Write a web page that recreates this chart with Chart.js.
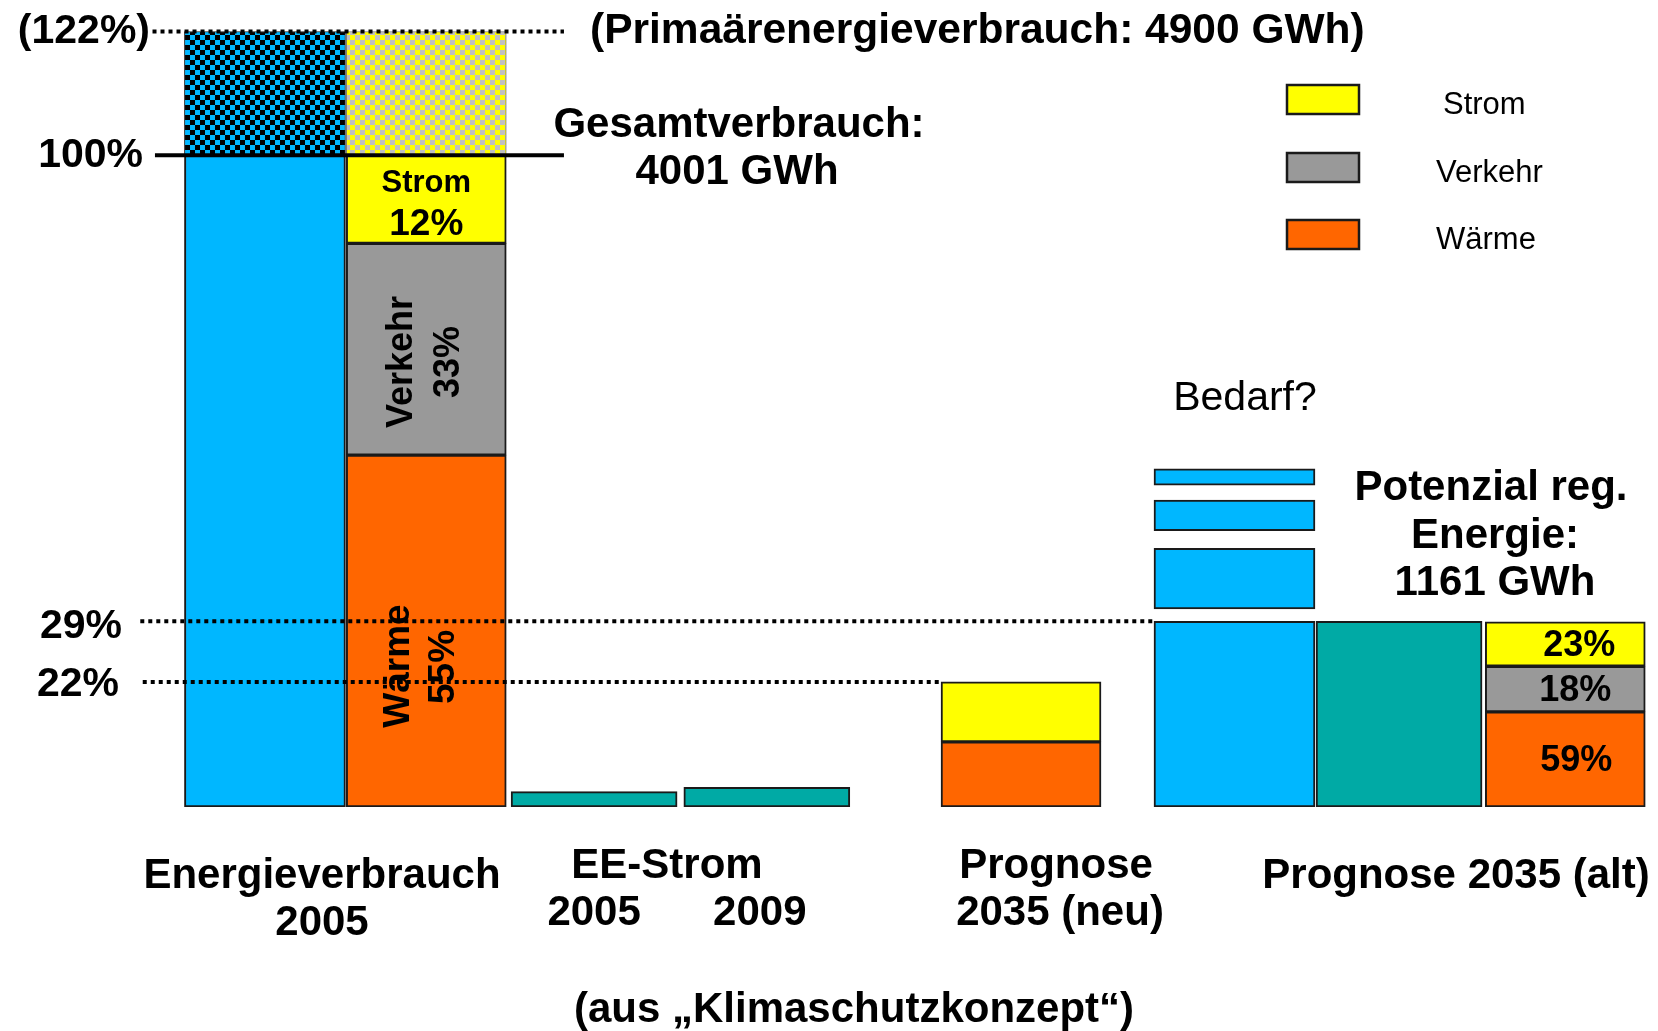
<!DOCTYPE html>
<html lang="de">
<head>
<meta charset="utf-8">
<title>Energieverbrauch 2005 und Prognose 2035</title>
<script src="https://cdn.jsdelivr.net/npm/chart.js@4.4.1/dist/chart.umd.min.js"></script>
<style>
  html, body { margin: 0; padding: 0; background: #fff; }
  #wrap { position: relative; width: 1658px; height: 1031px; }
</style>
</head>
<body>
<div id="wrap"><canvas id="chart"></canvas></div>
<script>
// Werte in % des Gesamtverbrauchs 2005
const kategorien = ['Energieverbrauch 2005', 'EE-Strom 2005', 'EE-Strom 2009', 'Prognose 2035 (neu)', 'Prognose 2035 (alt)'];
const sektoren = ['Wärme', 'Verkehr', 'Strom'];
const primaer2005 = [100, 119];            // Gesamtverbrauch, Primärenergie
const anteile2005 = [54, 32.5, 13.5];      // Wärme, Verkehr, Strom
const anteileNeu = [10.0, 0, 9.2];
const anteileAlt = [14.6, 7.0, 6.8];
const eeStrom = [2.35, 3.0];               // 2005, 2009
const potenzial = 28.5;                    // reg. Energie (1161 GWh)
const bedarf = [[30.4, 39.7], [42.4, 47.1], [49.4, 51.9]];
const linienWerte = [119, 100, 28.5, 19.2];
const linienText = ['(122%)', '100%', '29%', '22%'];

// Layout (Balkenpositionen auf der x-Achse, Einheit = eine Balkenbreite)
const xPos = { primaer: 1.0, end2005: 1.99, ee2005: 3.02, ee2009: 4.08, neu: 5.64, bedarf: 6.95, potenzial: 7.96, alt: 8.98 };
const linienX = [[0.31, 2.835], [0.325, 2.835], [0.235, 6.45], [0.25, 5.14]];

const farben = { blau: '#00B7FF', gelb: '#FFFF00', grau: '#999999', orange: '#FF6600', tuerkis: '#00AAA5' };
const rand = '#1a1a1a';
const schrift = '"Liberation Sans", Arial, Helvetica, sans-serif';

function schach(a, b, n) {
  const c = document.createElement('canvas');
  c.width = c.height = n * 2;
  const g = c.getContext('2d');
  g.fillStyle = a; g.fillRect(0, 0, n * 2, n * 2);
  g.fillStyle = b; g.fillRect(0, 0, n, n); g.fillRect(n, n, n, n);
  return g.createPattern(c, 'repeat');
}

function stapel(werte) {
  let s = 0;
  return werte.map(v => { const seg = v ? [s, s + v] : null; s += v; return seg; });
}
const seg2005 = stapel(anteile2005), segNeu = stapel(anteileNeu), segAlt = stapel(anteileAlt);

function sektorDaten(i) {
  return [
    { x: xPos.end2005, y: seg2005[i] },
    { x: xPos.neu, y: segNeu[i] },
    { x: xPos.alt, y: segAlt[i] }
  ].filter(d => d.y);
}

const balken = (label, data, farbe, breite, extra = {}) => Object.assign({
  type: 'bar', label, data, backgroundColor: farbe, borderColor: rand, borderWidth: 2,
  borderSkipped: false, grouped: false, barThickness: breite
}, extra);

const datasets = [];
linienWerte.forEach((v, i) => {
  datasets.push({
    type: 'line', label: linienText[i],
    data: [{ x: linienX[i][0], y: v }, { x: linienX[i][1], y: v }],
    borderColor: '#000', borderWidth: 4,
    borderDash: i === 1 ? [] : [4, 4], borderCapStyle: 'butt',
    pointRadius: 0, fill: false
  });
});
const sektorFarben = [farben.orange, farben.grau, farben.gelb];
sektoren.forEach((s, i) => datasets.push(balken(s, sektorDaten(i), sektorFarben[i], 160)));
datasets.push(balken('Primärenergie', [{ x: xPos.primaer, y: [primaer2005[0], primaer2005[1]] }], schach(farben.blau, '#000', 5), 161, { borderWidth: 1 }));
datasets.push(balken('Primärenergie Sektoren', [{ x: xPos.end2005, y: [primaer2005[0], primaer2005[1]] }], schach(farben.gelb, '#C0C0C0', 5), 160, { borderWidth: 1, borderColor: '#777' }));
datasets.push(balken('Gesamtverbrauch', [{ x: xPos.primaer, y: [0, primaer2005[0]] }, { x: xPos.bedarf, y: [0, potenzial] }], farben.blau, 161));
datasets.push(balken('Bedarf?', bedarf.map(b => ({ x: xPos.bedarf, y: b })), farben.blau, 161));
datasets.push(balken('EE-Strom', [{ x: xPos.ee2005, y: [0, eeStrom[0]] }, { x: xPos.ee2009, y: [0, eeStrom[1]] }, { x: xPos.potenzial, y: [0, potenzial] }], farben.tuerkis, 166));

function txt(ctx, s, x, y, size, opt = {}) {
  ctx.save();
  ctx.font = (opt.normal ? 'normal ' : 'bold ') + size + 'px ' + schrift;
  ctx.fillStyle = '#000';
  ctx.textAlign = opt.align || 'center';
  ctx.textBaseline = 'middle';
  ctx.translate(x, y);
  if (opt.rot) ctx.rotate(opt.rot);
  ctx.fillText(s, 0, 0);
  ctx.restore();
}

const beschriftung = {
  id: 'beschriftung',
  afterDraw(chart) {
    const ctx = chart.ctx;
    const xs = chart.scales.x, ys = chart.scales.y;
    const px = v => xs.getPixelForValue(v);

    // Prozentmarken links
    const rechts = [150, 143, 122, 119], dy = [0, 0, 5, 3];
    linienText.forEach((t, i) => txt(ctx, t, rechts[i], ys.getPixelForValue(linienWerte[i]) + dy[i], 41, { align: 'right' }));

    txt(ctx, '(Primaärenergieverbrauch: 4900 GWh)', 590, 31, 42.5, { align: 'left' });
    txt(ctx, 'Gesamtverbrauch:', 739, 125, 42);
    txt(ctx, '4001 GWh', 737, 172, 42);

    // Sektoren 2005
    const cx = px(xPos.end2005);
    txt(ctx, 'Strom', cx, 183, 31);
    txt(ctx, '12%', cx, 225, 37);
    txt(ctx, 'Verkehr', cx - 24, 362, 36, { rot: -Math.PI / 2 });
    txt(ctx, '33%', cx + 23, 362, 36, { rot: -Math.PI / 2 });
    txt(ctx, 'Wärme', cx - 27, 666, 37, { rot: -Math.PI / 2 });
    txt(ctx, '55%', cx + 18, 667, 37, { rot: -Math.PI / 2 });

    // Prognose alt
    const ax = px(xPos.alt);
    txt(ctx, '23%', ax + 14, 646, 36);
    txt(ctx, '18%', ax + 10, 691, 36);
    txt(ctx, '59%', ax + 11, 761, 36);

    txt(ctx, 'Bedarf?', 1245, 399, 41, { normal: true });
    txt(ctx, 'Potenzial reg.', 1491, 488, 42);
    txt(ctx, 'Energie:', 1495, 536, 42);
    txt(ctx, '1161 GWh', 1495, 583, 42);

    // Kategorien unten
    txt(ctx, 'Energieverbrauch', 322, 876, 42);
    txt(ctx, '2005', 322, 923, 42);
    txt(ctx, 'EE-Strom', 667, 866, 42);
    txt(ctx, '2005', px(xPos.ee2005), 913, 42);
    txt(ctx, '2009', px(xPos.ee2009) - 7, 913, 42);
    txt(ctx, 'Prognose', 1056, 866, 42);
    txt(ctx, '2035 (neu)', 1060, 913, 42);
    txt(ctx, 'Prognose 2035 (alt)', 1456, 876, 42);
    txt(ctx, '(aus \u201EKlimaschutzkonzept\u201C)', 854, 1010, 42);

    // Legende
    const leg = [[sektoren[2], 2, 85, 1443], [sektoren[1], 1, 153, 1436], [sektoren[0], 0, 220, 1436]];
    leg.forEach(([name, i, y, tx]) => {
      ctx.save();
      ctx.fillStyle = sektorFarben[i];
      ctx.strokeStyle = rand;
      ctx.lineWidth = 2.5;
      ctx.fillRect(1287, y, 72, 29);
      ctx.strokeRect(1287, y, 72, 29);
      ctx.restore();
      txt(ctx, name, tx, y + 20, 31, { align: 'left', normal: true });
    });
  }
};

new Chart(document.getElementById('chart'), {
  type: 'bar',
  data: { datasets },
  options: {
    responsive: true,
    maintainAspectRatio: false,
    animation: false,
    events: [],
    layout: { padding: { left: 102, right: 8, top: 25, bottom: 224 } },
    scales: {
      x: { type: 'linear', min: 0, max: 9.5, offset: false, display: false },
      y: { type: 'linear', min: 0, max: 120, display: false }
    },
    plugins: { legend: { display: false }, tooltip: { enabled: false } }
  },
  plugins: [beschriftung]
});
</script>
</body>
</html>
